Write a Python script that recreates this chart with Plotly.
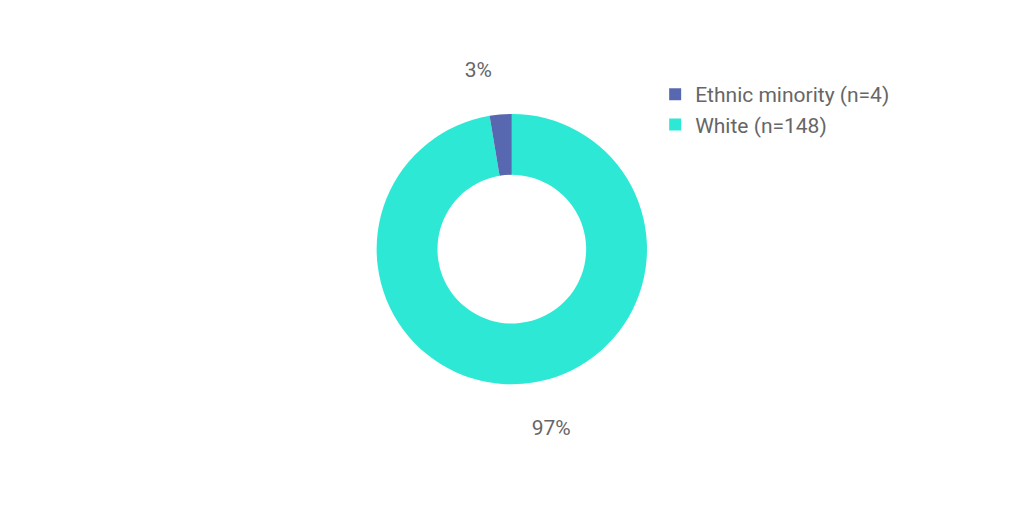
import plotly.graph_objects as go

# Data (drawn clockwise from 12 o'clock, White first so the minority slice sits left of top)
groups = ['White (n=148)', 'Ethnic minority (n=4)']
counts = [148, 4]
colours = ['#2ee8d6', '#5868b0']

fig = go.Figure()

# invisible wider pie only used to place the percentage labels further out
fig.add_trace(go.Pie(
    labels=groups,
    values=counts,
    sort=False,
    direction='clockwise',
    marker=dict(colors=['rgba(0,0,0,0)'] * len(groups), line=dict(width=0)),
    textposition='outside',
    texttemplate='%{percent:.0%}',
    textfont=dict(size=21, color='#666666'),
    hoverinfo='skip',
    showlegend=False,
    domain=dict(x=[0.328, 0.656], y=[0.200, 0.858]),
))

fig.add_trace(go.Pie(
    labels=groups,
    values=counts,
    hole=0.55,
    sort=False,
    direction='clockwise',
    marker=dict(colors=colours, line=dict(width=0)),
    textinfo='none',
    domain=dict(x=[0.360, 0.624], y=[0.265, 0.793]),
))

fig.update_layout(
    width=1024, height=512,
    margin=dict(l=0, r=0, t=0, b=0),
    paper_bgcolor='white',
    font=dict(family='Roboto', color='#666666', size=21),
    showlegend=True,
    legend=dict(x=0.632, y=0.871, xanchor='left', yanchor='top',
                traceorder='reversed',
                font=dict(size=21, color='#666666'), itemwidth=30,
                tracegroupgap=0),
)

fig.write_html("out.html")
